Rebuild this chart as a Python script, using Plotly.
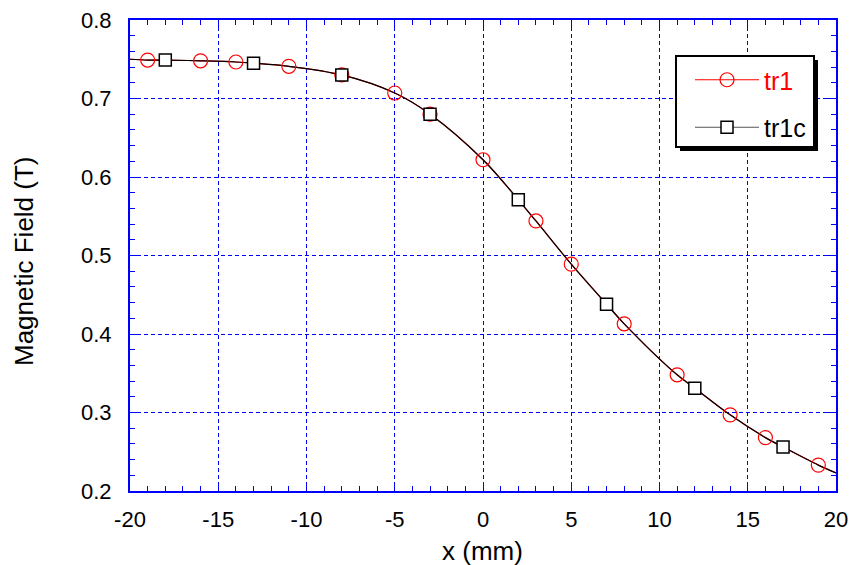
import plotly.graph_objects as go

# data
tr1_x = [-19, -16, -14, -11, -8, -5, -3, 0, 3, 5, 8, 11, 14, 16, 19]
tr1_y = [0.749, 0.748, 0.7465, 0.741, 0.730, 0.707, 0.680, 0.622, 0.544, 0.489, 0.413, 0.348, 0.297, 0.268, 0.233]
tr1c_x = [-18, -13, -8, -3, 2, 7, 12, 17]
tr1c_y = [0.749, 0.745, 0.730, 0.680, 0.571, 0.438, 0.331, 0.256]
curve_x = [-20, -19, -18, -16, -14, -13, -11, -8, -5, -3, 0, 2, 3, 5, 7, 8, 11, 12, 14, 16, 17, 19, 20]
curve_y = [0.750, 0.749, 0.749, 0.748, 0.7465, 0.745, 0.741, 0.730, 0.707, 0.680, 0.622, 0.571, 0.544,
           0.489, 0.438, 0.413, 0.348, 0.331, 0.297, 0.268, 0.256, 0.233, 0.223]
x_ticks = [-20, -15, -10, -5, 0, 5, 10, 15, 20]
x_ticklabels = ["-20", "-15", "-10", "-5", "0", "5", "10", "15", "20"]
y_ticks = [0.2, 0.3, 0.4, 0.5, 0.6, 0.7, 0.8]
y_ticklabels = ["0.2", "0.3", "0.4", "0.5", "0.6", "0.7", "0.8"]
x_title = "x (mm)"
y_title = "Magnetic Field (T)"

W, H = 851, 565
L, R, T, B = 130, 15, 20, 74
pw, ph = W - L - R, H - T - B
FONT = "Liberation Sans, Arial, sans-serif"

def px2paper(x, y):
    return (x - L) / pw, (H - B - y) / ph

fig = go.Figure()
fig.add_trace(go.Scatter(x=curve_x, y=curve_y, mode="lines", line=dict(color="red", width=1.2, shape="spline"),
                         showlegend=False, hoverinfo="skip"))
fig.add_trace(go.Scatter(x=curve_x, y=curve_y, mode="lines", line=dict(color="black", width=1.2, shape="spline"),
                         showlegend=False, hoverinfo="skip"))
fig.add_trace(go.Scatter(x=tr1_x, y=tr1_y, mode="markers", name="tr1",
                         marker=dict(symbol="circle-open", size=14, color="red", line=dict(width=1.2, color="red")),
                         showlegend=False))
fig.add_trace(go.Scatter(x=tr1c_x, y=tr1c_y, mode="markers", name="tr1c",
                         marker=dict(symbol="square", size=12, color="white", line=dict(width=1.5, color="black")),
                         showlegend=False))
# legend entries
fig.add_trace(go.Scatter(x=[None], y=[None], mode="lines+markers", name="<span style='color:red'>tr1</span>",
                         legendgroup="a", line=dict(color="red", width=1.2),
                         marker=dict(symbol="circle-open", size=14, color="red", line=dict(width=1.2, color="red"))))
fig.add_trace(go.Scatter(x=[None], y=[None], mode="lines+markers", name="tr1c",
                         legendgroup="b", line=dict(color="#555", width=1.2),
                         marker=dict(symbol="square", size=12, color="white", line=dict(width=1.5, color="black"))))

# legend box with shadow
x0, y0 = px2paper(680, 151)
x1, y1 = px2paper(818, 60)
fig.add_shape(type="rect", xref="paper", yref="paper", x0=x0, y0=y0, x1=x1, y1=y1,
              fillcolor="black", line=dict(width=0), layer="above")
x0, y0 = px2paper(676, 147)
x1, y1 = px2paper(814, 56)
fig.add_shape(type="rect", xref="paper", yref="paper", x0=x0, y0=y0, x1=x1, y1=y1,
              fillcolor="white", line=dict(width=2, color="black"), layer="above")

# axis titles
ax, ay = px2paper(482, 551)
fig.add_annotation(text=x_title, xref="paper", yref="paper", x=ax, y=ay, xanchor="center", yanchor="middle",
                   showarrow=False, font=dict(size=26, family=FONT, color="black"))
ax, ay = px2paper(24, 261)
fig.add_annotation(text=y_title, xref="paper", yref="paper", x=ax, y=ay, xanchor="center", yanchor="middle",
                   textangle=-90, showarrow=False, font=dict(size=26, family=FONT, color="black"))

lx, ly = px2paper(690, 57)
axis_common = dict(
    showline=True, linecolor="blue", linewidth=2, mirror="ticks",
    ticks="inside", tickcolor="blue", ticklen=9, tickwidth=1,
    showgrid=True, gridcolor="blue", gridwidth=1, griddash="4px,3px",
    zeroline=False, tickmode="array", automargin=False,
    tickfont=dict(family=FONT, size=22, color="black"),
)
fig.update_layout(
    width=W, height=H,
    margin=dict(l=L, r=R, t=T, b=B),
    paper_bgcolor="white", plot_bgcolor="white",
    font=dict(family=FONT, color="black"),
    xaxis=dict(range=[-20, 20], tickvals=x_ticks, ticktext=x_ticklabels, ticklabelstandoff=8,
               minor=dict(dtick=1, tick0=0, ticks="inside", ticklen=5, tickcolor="blue", showgrid=False),
               **axis_common),
    yaxis=dict(range=[0.2, 0.8], tickvals=y_ticks, ticktext=y_ticklabels, ticklabelstandoff=12,
               minor=dict(dtick=0.02, tick0=0, ticks="inside", ticklen=5, tickcolor="blue", showgrid=False),
               **axis_common),
    legend=dict(x=lx, y=ly, xanchor="left", yanchor="top", bgcolor="rgba(0,0,0,0)",
                borderwidth=0, font=dict(size=25, family=FONT, color="black"),
                itemwidth=64, tracegroupgap=12),
    showlegend=True,
)
css_js = ("var s=document.createElement('style');"
          "s.textContent='html,body{margin:0!important;padding:0!important;overflow:hidden!important;}';"
          "document.head.appendChild(s);")
fig.write_html("out.html", config={"displayModeBar": False}, post_script=css_js)
